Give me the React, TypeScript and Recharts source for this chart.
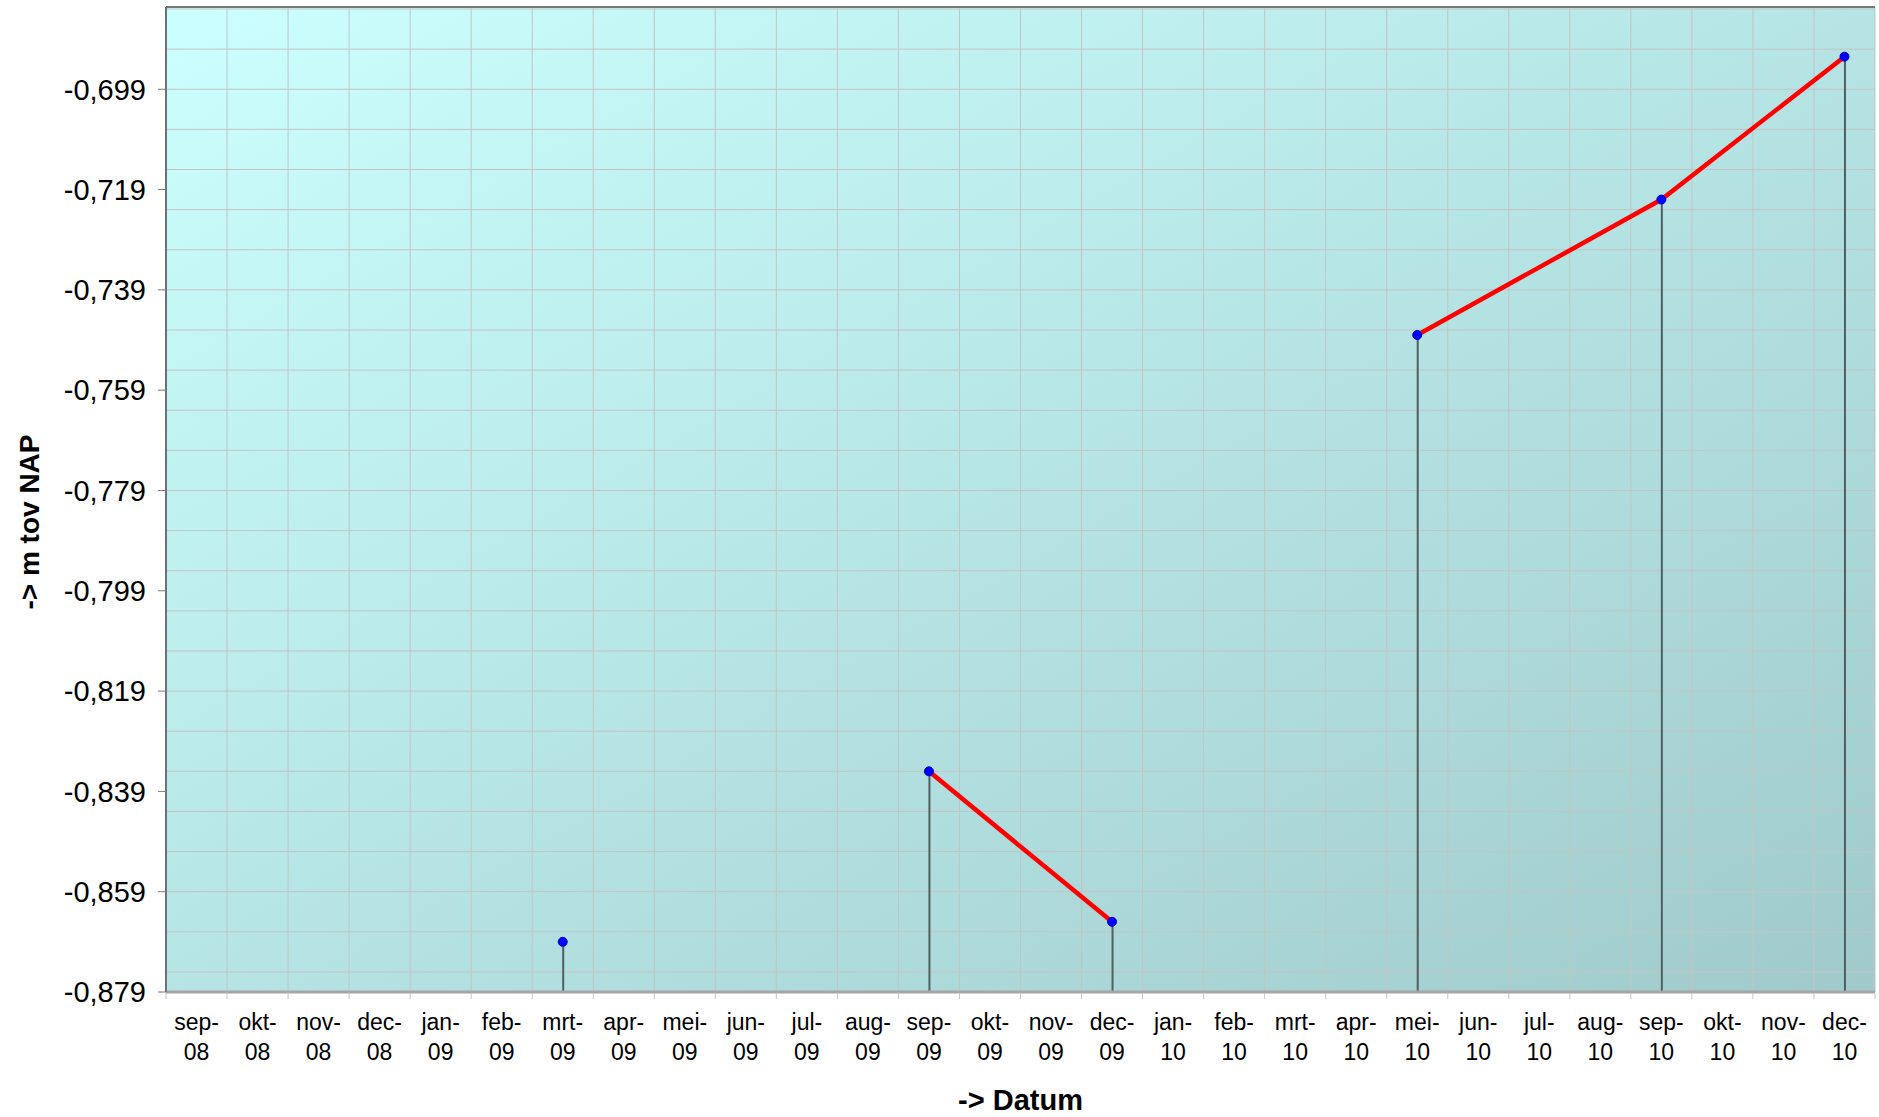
import React from 'react';
import { ComposedChart, Bar, Line, XAxis, YAxis, CartesianGrid, ReferenceLine } from 'recharts';

const months = [
  'sep-08', 'okt-08', 'nov-08', 'dec-08', 'jan-09', 'feb-09', 'mrt-09', 'apr-09', 'mei-09', 'jun-09',
  'jul-09', 'aug-09', 'sep-09', 'okt-09', 'nov-09', 'dec-09', 'jan-10', 'feb-10', 'mrt-10', 'apr-10',
  'mei-10', 'jun-10', 'jul-10', 'aug-10', 'sep-10', 'okt-10', 'nov-10', 'dec-10',
];

// gemeten hoogte (m t.o.v. NAP), null = geen meting
const levels = [
  null, null, null, null, null, null, -0.869, null, null, null,
  null, null, -0.835, null, null, -0.865, null, null, null, null,
  -0.748, null, null, null, -0.721, null, null, -0.6925,
];

// which points are joined by the red line
const segment = [
  null, null, null, null, null, null, null, null, null, null,
  null, null, 1, null, null, 1, null, null, null, null,
  2, null, null, null, 2, null, null, 2,
];

const yTicks = [-0.879, -0.859, -0.839, -0.819, -0.799, -0.779, -0.759, -0.739, -0.719, -0.699];
const Y_MIN = -0.879;
const Y_MAX = -0.6826;
const MINOR_STEP = 0.004;

const minorValues: number[] = [];
for (let v = Y_MIN; v <= Y_MAX + 1e-9; v += MINOR_STEP) minorValues.push(Number(v.toFixed(4)));

const data = months.map((m, i) => ({
  month: m,
  level: levels[i],
  drop: levels[i] == null ? null : [Y_MIN, levels[i]],
  seg1: segment[i] === 1 ? levels[i] : null,
  seg2: segment[i] === 2 ? levels[i] : null,
}));

const FONT = '"Liberation Sans", Arial, sans-serif';
const W = 1879;
const H = 1117;

const fmt = (v: number) => v.toFixed(3).replace('.', ',');

const MonthTick = (props: any) => {
  const { x, y, payload, index } = props;
  const [mon, yr] = String(payload.value).split('-');
  const band = (W - 166 - 4) / months.length;
  return (
    <g transform={`translate(${x},${y})`}>
      <line x1={-band / 2} y1={1} x2={-band / 2} y2={7} stroke="#c4c4c4" strokeWidth={1} />
      {index === months.length - 1 && (
        <line x1={band / 2} y1={1} x2={band / 2} y2={7} stroke="#c4c4c4" strokeWidth={1} />
      )}
      <text textAnchor="middle" fontFamily={FONT} fontSize={23} fill="#000">
        <tspan x={0} y={38}>{mon}-</tspan>
        <tspan x={0} y={68}>{yr}</tspan>
      </text>
    </g>
  );
};

export default function App() {
  return (
    <div style={{ position: 'absolute', left: 0, top: 0, width: W, height: H, background: '#fff' }}>
      <ComposedChart width={W} height={H} data={data} margin={{ top: 7, right: 4, bottom: 0, left: 8 }}>
        <defs>
          <linearGradient id="plotBg" x1="0" y1="0" x2="1" y2="1">
            <stop offset="0%" stopColor="#ccffff" />
            <stop offset="100%" stopColor="#a0caca" />
          </linearGradient>
        </defs>
        <CartesianGrid
          fill="url(#plotBg)"
          fillOpacity={1}
          stroke="#c4c4c4"
          strokeWidth={1}
          horizontalValues={minorValues}
          verticalCoordinatesGenerator={({ offset }: any) =>
            months.map((_, i) => offset.left + (i * offset.width) / months.length).concat(offset.left + offset.width)
          }
        />
        <XAxis
          dataKey="month"
          interval={0}
          height={125}
          tickSize={0}
          tickMargin={0}
          tick={<MonthTick />}
          axisLine={{ stroke: '#a6a6a6', strokeWidth: 3 }}
          label={{
            content: ({ viewBox }: any) => (
              <text
                x={viewBox.x + viewBox.width / 2}
                y={1110}
                textAnchor="middle"
                fontFamily={FONT}
                fontSize={29}
                fontWeight="bold"
                fill="#000"
              >
                -&gt; Datum
              </text>
            ),
          }}
        />
        <YAxis
          type="number"
          domain={[Y_MIN, Y_MAX]}
          ticks={yTicks}
          allowDataOverflow
          width={158}
          tickSize={8}
          tickMargin={12}
          tickFormatter={fmt}
          tick={{ fontFamily: FONT, fontSize: 29, fill: '#000' }}
          tickLine={{ stroke: '#7a7a7a' }}
          axisLine={{ stroke: '#707070', strokeWidth: 2 }}
          label={{
            content: () => (
              <text
                x={29}
                y={522}
                transform="rotate(-90, 29, 522)"
                textAnchor="middle"
                dominantBaseline="central"
                fontFamily={FONT}
                fontSize={28}
                fontWeight="bold"
                fill="#000"
              >
                -&gt; m tov NAP
              </text>
            ),
          }}
        />
        <YAxis
          yAxisId="right"
          orientation="right"
          type="number"
          domain={[Y_MIN, Y_MAX]}
          width={0}
          tick={false}
          tickLine={false}
          axisLine={{ stroke: '#8a8a8a', strokeWidth: 2 }}
        />
        <ReferenceLine y={Y_MAX} stroke="#777777" strokeWidth={2} />
        <Bar dataKey="drop" barSize={2} fill="#4f5f5f" isAnimationActive={false} />
        <Line dataKey="seg1" stroke="#ff0000" strokeWidth={4.5} dot={false} activeDot={false} connectNulls isAnimationActive={false} />
        <Line dataKey="seg2" stroke="#ff0000" strokeWidth={4.5} dot={false} activeDot={false} connectNulls isAnimationActive={false} />
        <Line
          dataKey="level"
          stroke="none"
          dot={{ r: 4.5, fill: '#0000ff', stroke: '#0000cc', strokeWidth: 1 }}
          activeDot={false}
          isAnimationActive={false}
        />
      </ComposedChart>
    </div>
  );
}
